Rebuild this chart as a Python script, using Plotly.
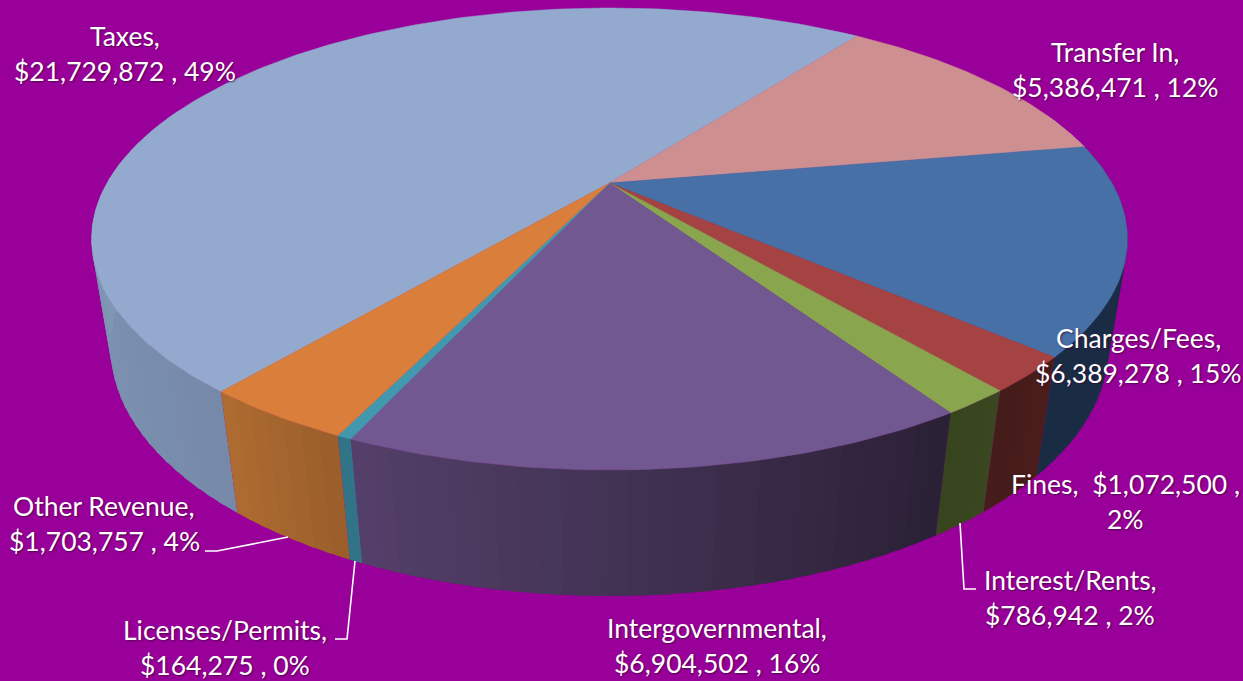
import math
import plotly.graph_objects as go

# Revenue by source, clockwise from the first slice
names = ["Taxes", "Transfer In", "Charges/Fees", "Fines", "Interest/Rents",
         "Intergovernmental", "Licenses/Permits", "Other Revenue"]
amounts = [21729872, 5386471, 6389278, 1072500, 786942, 6904502, 164275, 1703757]
percents = [49, 12, 15, 2, 2, 16, 0, 4]

top_colors = ["#93a9ce", "#cd8f8f", "#4670a6", "#a54342", "#89a54e",
              "#725890", "#4198af", "#d97f3b"]
wall_start = ["#7689a8", "#1b2f47", "#1a2e47", "#4a1d1a", "#39461f",
              "#2a2035", "#33788c", "#9a5e2b"]
wall_end = ["#869ebd", "#8ea5c6", "#1a2c44", "#451c1a", "#37451f",
            "#54406a", "#2f7085", "#b06c31"]

PURPLE = "#990099"
FONT = "Lato"
FIRST_ANGLE = 218.85

# Perspective of the tilted disc, in screen pixels
CX, APEX_Y, HORIZON_Y = 609.5, 183.0, -714.0
DEPTH_K, SCALE_X, SCALE_Y = 0.2424, 502.5, 897.0
DROP_W, DROP_Y = 0.036, 142.6


def project(angle, drop=0.0):
    """Screen position of a rim point; angle runs clockwise from the back."""
    a = math.radians(angle)
    x, y = math.sin(a), math.cos(a)
    w = 1 + DEPTH_K * y + DROP_W * drop
    return CX + SCALE_X * x / w, HORIZON_Y + (SCALE_Y + DROP_Y * drop) / w


def mix(c1, c2, t):
    a = [int(c1[i:i + 2], 16) for i in (1, 3, 5)]
    b = [int(c2[i:i + 2], 16) for i in (1, 3, 5)]
    return "rgb({},{},{})".format(*[round(p + (q - p) * t) for p, q in zip(a, b)])


total = sum(amounts)
spans = []
start = FIRST_ANGLE
for value in amounts:
    end = start + value / total * 360
    spans.append((start, end))
    start = end

fig = go.Figure()

# Outer wall, drawn as overlapping shaded strips so no seams show between them
STEP = 2.0
for i, (a0, a1) in enumerate(spans):
    n = max(1, math.ceil((a1 - a0) / STEP))
    for k in range(n):
        p = a0 + (a1 - a0) * k / n
        q = a0 + (a1 - a0) * (k + 1) / n
        mid = ((p + q) / 2) % 360
        if not 70 <= mid <= 290:
            continue
        t = (k + 0.5) / n
        if i == 0:
            # only the stretch left of the front is visible on this slice
            t = min(1, max(0, (mid - 219) / 71))
        # each strip runs under its neighbour, except at the slice's far edge
        q_over = min(a1, q + 0.8)
        pts = [project(p), project(q_over), project(q_over, 1), project(p, 1), project(p)]
        fig.add_trace(go.Scatter(
            x=[u for u, _ in pts], y=[v for _, v in pts], mode="none",
            fill="toself", fillcolor=mix(wall_start[i], wall_end[i], t),
            hoverinfo="skip", showlegend=False))

# Top faces
for i, (a0, a1) in enumerate(spans):
    n = max(2, math.ceil((a1 - a0) / 1.0))
    rim = [project(a0 + (a1 - a0) * k / n) for k in range(n + 1)]
    xs = [CX] + [u for u, _ in rim] + [CX]
    ys = [APEX_Y] + [v for _, v in rim] + [APEX_Y]
    fig.add_trace(go.Scatter(
        x=xs, y=ys, mode="lines", fill="toself", fillcolor=top_colors[i],
        line=dict(color=top_colors[i], width=0.5),
        name=names[i], hoverinfo="skip", showlegend=False))

# Leader lines for the labels set away from their slices
leaders = [
    ([205, 217, 288], [551, 551, 537]),
    ([335, 347, 355], [639, 639, 561]),
    ([960, 964, 976], [523, 589, 589]),
]
for lx, ly in leaders:
    fig.add_trace(go.Scatter(x=lx, y=ly, mode="lines",
                             line=dict(color="white", width=1.6),
                             hoverinfo="skip", showlegend=False))


def label_lines(i):
    money = f"${amounts[i]:,}"
    if names[i] == "Fines":
        return [f"Fines,  {money} ,", f"{percents[i]}%"]
    return [f"{names[i]},", f"{money} , {percents[i]}%"]


label_anchor = {
    "Taxes": (125, 36), "Transfer In": (1115, 52), "Charges/Fees": (1138, 338),
    "Fines": (1125, 484), "Interest/Rents": (1070, 580),
    "Intergovernmental": (717, 628), "Licenses/Permits": (225, 630),
    "Other Revenue": (104, 506),
}
LINE_GAP = 35
for i, name in enumerate(names):
    ax, ay = label_anchor[name]
    for j, line in enumerate(label_lines(i)):
        fig.add_annotation(
            x=ax, y=ay + j * LINE_GAP, xref="x", yref="y", text=line,
            showarrow=False, xanchor="center", yanchor="middle",
            font=dict(family=FONT, size=26.5, color="white",
                      shadow="1px 1px 2px rgba(50,0,50,0.7)"))

fig.update_layout(
    width=1243, height=681, autosize=False,
    margin=dict(l=0, r=0, t=0, b=0),
    paper_bgcolor=PURPLE, plot_bgcolor=PURPLE, showlegend=False,
    xaxis=dict(range=[0, 1243], visible=False, fixedrange=True),
    yaxis=dict(range=[681, 0], visible=False, fixedrange=True),
)
fig.write_html("out.html", config={"displayModeBar": False})
